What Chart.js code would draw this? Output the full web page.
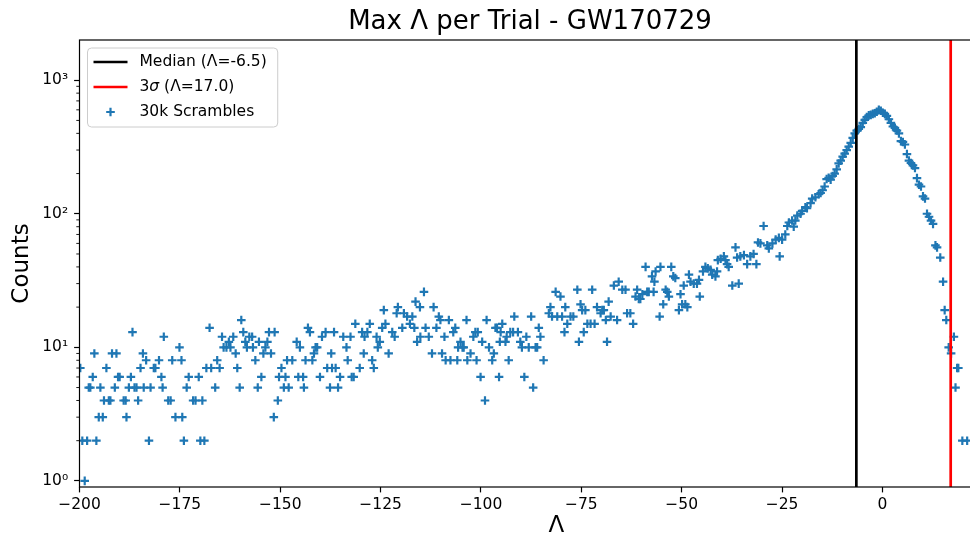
<!DOCTYPE html>
<html>
<head>
<meta charset="utf-8">
<script src="https://cdn.jsdelivr.net/npm/chart.js@4.4.1/dist/chart.umd.min.js"></script>
<style>
html, body { margin: 0; background: #fff; overflow: hidden; }
#wrap { width: 970px; height: 542px; overflow: hidden; }
</style>
</head>
<body>
<!-- the reference figure is cropped on the right: the axes run past the picture edge -->
<div id="wrap"><canvas id="myChart" width="1060" height="542"></canvas></div>
<script>
// values: [lambda, count]
const tailFar = [
	[-199.8, 7], [-199.3, 2], [-198.7, 1], [-198.1, 2], [-197.7, 5], [-197.3, 5], [-196.7, 6], [-196.3, 9], [-195.8, 2], [-195.2, 3],
	[-194.8, 5], [-194.2, 3], [-193.9, 4], [-193.3, 7], [-192.7, 4], [-192.3, 4], [-191.9, 9], [-191.2, 5], [-190.8, 9], [-190.4, 6],
	[-190.0, 6], [-189.0, 4], [-188.5, 4], [-188.3, 3], [-187.7, 5], [-187.2, 6], [-186.8, 13], [-186.3, 5], [-185.8, 5], [-185.4, 4],
	[-184.8, 7], [-184.2, 9], [-184.0, 5], [-183.4, 8], [-182.7, 2], [-182.3, 5], [-181.5, 7], [-181.1, 7], [-180.2, 8], [-179.6, 6],
	[-179.3, 5], [-179.0, 12], [-177.9, 4], [-177.3, 4], [-176.9, 8], [-176.1, 3], [-175.1, 10], [-174.6, 8], [-174.4, 3], [-174.0, 2]
];
const tailMid = [
	[-173.3, 5], [-172.8, 6], [-171.7, 4], [-171.1, 4], [-170.3, 6], [-169.9, 2], [-169.4, 4], [-168.9, 2], [-168.4, 7], [-167.6, 14],
	[-167.2, 7], [-166.2, 5], [-165.7, 8], [-165.1, 7], [-164.5, 12], [-164.1, 10], [-163.4, 10], [-162.8, 11], [-162.4, 10], [-161.7, 12],
	[-161.1, 9], [-160.7, 7], [-160.1, 5], [-159.7, 16], [-159.2, 13], [-158.7, 11], [-158.3, 10], [-157.7, 12], [-157.0, 12], [-156.8, 10],
	[-156.2, 8], [-155.6, 5], [-155.3, 11], [-154.7, 6], [-154.2, 9], [-153.7, 10], [-153.2, 11], [-152.8, 13], [-152.3, 9], [-151.6, 3],
	[-151.4, 13], [-150.6, 4], [-150.3, 6], [-149.7, 7], [-149.1, 5], [-148.7, 6], [-148.3, 8], [-147.9, 5]
];
const tailNear = [
	[-147.0, 8], [-145.9, 11], [-145.5, 6], [-145.1, 10], [-144.3, 6], [-144.1, 5], [-143.7, 8], [-143.1, 14], [-142.6, 13], [-142.0, 8],
	[-141.6, 9], [-141.2, 10], [-140.8, 10], [-140.1, 6], [-139.6, 12], [-138.7, 13], [-138.3, 7], [-137.6, 5], [-137.3, 9], [-137.1, 7],
	[-136.6, 13], [-136.2, 7], [-135.6, 5], [-135.1, 6], [-134.3, 12], [-133.5, 10], [-133.2, 8], [-132.5, 12], [-132.2, 6], [-131.7, 6],
	[-131.3, 15], [-130.2, 7], [-129.6, 13], [-129.2, 9], [-129.0, 12], [-128.3, 13], [-127.7, 15], [-127.1, 8], [-126.7, 7], [-126.0, 12],
	[-125.7, 10], [-125.2, 11], [-124.6, 14], [-124.2, 19], [-123.8, 15], [-123.0, 9], [-122.1, 13], [-121.5, 12], [-121.0, 18], [-120.7, 20],
	[-119.6, 14], [-119.2, 18], [-118.4, 17], [-117.7, 15], [-117.1, 17], [-116.6, 14], [-116.3, 22], [-115.9, 11], [-115.2, 20], [-115.1, 12],
	[-114.2, 26], [-113.8, 14], [-113.0, 12], [-112.2, 9], [-111.8, 20], [-111.1, 14], [-110.5, 17], [-110.1, 16], [-109.7, 9], [-109.1, 12],
	[-108.8, 8], [-108.0, 16], [-107.6, 8], [-106.9, 13], [-106.4, 14]
];
const shoulder = [
	[-105.9, 8], [-105.7, 10], [-105.1, 11], [-104.6, 10], [-104.3, 10], [-103.6, 16], [-103.4, 8], [-102.6, 9], [-101.9, 12], [-101.4, 13],
	[-101.1, 8], [-100.8, 13], [-100.1, 6], [-99.7, 11], [-99.0, 4], [-98.6, 16], [-98.0, 10], [-97.2, 8], [-96.8, 9], [-96.4, 14],
	[-96.0, 14], [-95.5, 6], [-95.3, 11], [-95.1, 13], [-94.7, 15], [-93.9, 11], [-93.6, 12], [-93.1, 8], [-92.7, 13], [-92.0, 13],
	[-91.7, 17], [-90.8, 13], [-90.2, 11], [-89.8, 10], [-89.2, 6], [-88.7, 12], [-88.1, 10], [-87.5, 17], [-87.0, 5], [-86.4, 10],
	[-86.0, 10], [-85.6, 14], [-85.2, 12], [-84.4, 8], [-83.1, 18], [-82.7, 20], [-82.3, 17], [-81.4, 26], [-81.0, 17], [-80.2, 24],
	[-79.8, 17], [-79.2, 13], [-79.0, 20], [-78.5, 15], [-77.7, 17], [-77.0, 17], [-76.0, 27], [-75.6, 11], [-75.2, 21], [-74.8, 19],
	[-74.4, 13], [-74.0, 19], [-73.5, 15], [-72.7, 15], [-72.3, 27], [-71.7, 15], [-71.1, 20], [-70.2, 18], [-69.8, 19], [-69.4, 19],
	[-68.9, 16], [-68.6, 11], [-68.2, 22], [-67.7, 17], [-66.9, 29], [-66.1, 16], [-65.7, 31], [-64.8, 27], [-64.0, 27], [-63.6, 18],
	[-62.8, 18], [-62.1, 15], [-61.5, 24], [-61.1, 27], [-60.7, 23]
];
const rise = [
	[-60.3, 23], [-59.8, 25], [-59.0, 40], [-58.6, 26], [-58.2, 26], [-57.4, 34], [-57.0, 26], [-56.8, 31], [-56.5, 37], [-55.5, 17],
	[-55.3, 40], [-54.6, 21], [-54.0, 27], [-53.6, 26], [-53.2, 24], [-52.6, 40], [-52.1, 34], [-51.6, 33], [-50.7, 19], [-50.3, 25],
	[-49.9, 21], [-49.5, 29], [-49.1, 21], [-48.6, 20], [-48.2, 35], [-47.8, 31], [-47.0, 30], [-46.2, 30], [-45.7, 32], [-45.5, 24],
	[-44.7, 37], [-44.1, 40], [-43.5, 39], [-42.8, 38], [-42.4, 35], [-41.6, 34], [-41.2, 37], [-41.0, 45], [-40.3, 46], [-39.5, 48],
	[-39.1, 45], [-38.7, 42], [-38.3, 40], [-37.4, 29], [-36.6, 56], [-36.2, 47], [-35.8, 30], [-35.4, 48], [-34.5, 49], [-33.7, 42],
	[-32.9, 48], [-32.1, 50], [-31.4, 42], [-31.0, 61], [-30.4, 60], [-29.6, 81], [-28.7, 58], [-28.3, 55], [-27.4, 60], [-26.6, 64],
	[-25.8, 66], [-25.6, 48], [-25.0, 64], [-24.2, 70], [-23.7, 81], [-23.3, 86], [-22.5, 89], [-22.1, 80], [-21.7, 89], [-21.2, 97],
	[-20.4, 100], [-20.0, 105], [-19.2, 112], [-18.8, 110], [-17.9, 120], [-17.5, 130], [-16.7, 133], [-15.9, 140]
];
const peak = [
	[-15.4, 143], [-14.9, 150], [-14.4, 160], [-13.9, 182], [-13.4, 186], [-12.9, 180], [-12.4, 192], [-11.9, 200], [-11.4, 215], [-10.9, 238],
	[-10.4, 250], [-9.9, 268], [-9.4, 282], [-8.9, 300], [-8.4, 318], [-7.9, 340], [-7.4, 370], [-6.9, 400], [-6.4, 420], [-5.9, 432],
	[-5.4, 445], [-4.9, 480], [-4.4, 505], [-3.9, 530], [-3.4, 545], [-2.9, 550], [-2.4, 560], [-1.9, 565], [-1.4, 580], [-0.9, 600],
	[-0.4, 590], [0.1, 570], [0.6, 560], [1.1, 540], [1.6, 510], [2.1, 480], [2.6, 450], [3.1, 440], [3.6, 420], [4.1, 400],
	[4.6, 350], [5.1, 345], [5.6, 330], [6.1, 280], [6.6, 250], [7.1, 240], [7.6, 230], [8.1, 220], [8.6, 185], [9.1, 165],
	[9.6, 160], [10.1, 135], [10.6, 130], [11.1, 100], [11.6, 95], [12.1, 89], [12.6, 84]
];
const tailRight = [
	[13.2, 58], [13.6, 56], [14.4, 47], [15.1, 31], [15.5, 19], [15.9, 16], [16.5, 10], [17.1, 9], [17.8, 12], [18.2, 5],
	[18.6, 7], [18.9, 7], [19.9, 2], [21.1, 2]
];

const medianLambda = -6.5;
const sigma3Lambda = 17.0;

const xTickValues = [-200, -175, -150, -125, -100, -75, -50, -25, 0];
const yTickValues = [1, 10, 100, 1000];
const yTickLabels = ['10\u2070', '10\u00b9', '10\u00b2', '10\u00b3'];
const yMinorTicks = [2, 3, 4, 5, 6, 7, 8, 9, 20, 30, 40, 50, 60, 70, 80, 90, 200, 300, 400, 500, 600, 700, 800, 900];

const xMin = -200, xMax = 37.5;
const yMin = 0.9, yMax = 2000;

const FONT = '"DejaVu Sans", sans-serif';

const points = [...tailFar, ...tailMid, ...tailNear, ...shoulder, ...rise, ...peak, ...tailRight]
	.map(p => ({ x: p[0], y: p[1] }));

// matplotlib-ish bits: frame, minor ticks, suptitle, legend box
const mplDecor = {
	id: 'mplDecor',
	afterDraw(chart) {
		const c = chart.ctx;
		const a = chart.chartArea;
		const ys = chart.scales.y;
		c.save();

		c.strokeStyle = '#000';
		c.lineWidth = 1.2;
		c.strokeRect(a.left, a.top, a.right - a.left, a.bottom - a.top);

		c.lineWidth = 0.9;
		yMinorTicks.forEach(v => {
			if (v < yMin || v > yMax) return;
			const py = ys.getPixelForValue(v);
			c.beginPath();
			c.moveTo(a.left - 3.2, py);
			c.lineTo(a.left, py);
			c.stroke();
		});

		// figure title, centred on the whole (uncropped) figure
		c.fillStyle = '#000';
		c.font = '26px ' + FONT;
		c.textAlign = 'center';
		c.textBaseline = 'alphabetic';
		c.fillText('Max \u039b per Trial - GW170729', chart.width / 2, 29);

		// legend
		const ds = chart.data.datasets;
		c.font = '15.5px ' + FONT;
		const textW = Math.max(...ds.map(d => c.measureText(d.label).width));
		const bx = a.left + 8, by = a.top + 8;
		const bw = 52 + textW + 11, bh = 79;
		c.beginPath();
		c.roundRect(bx, by, bw, bh, 4);
		c.fillStyle = 'rgba(255,255,255,0.8)';
		c.fill();
		c.strokeStyle = '#cccccc';
		c.lineWidth = 1;
		c.stroke();

		ds.forEach((d, i) => {
			const cy = by + 14 + i * 25;
			if (d.showLine) {
				c.strokeStyle = d.borderColor;
				c.lineWidth = d.borderWidth;
				c.beginPath();
				c.moveTo(bx + 6, cy);
				c.lineTo(bx + 40, cy);
				c.stroke();
			} else {
				const r = d.pointRadius;
				c.strokeStyle = d.pointBorderColor;
				c.lineWidth = d.pointBorderWidth;
				c.beginPath();
				c.moveTo(bx + 23 - r, cy);
				c.lineTo(bx + 23 + r, cy);
				c.moveTo(bx + 23, cy - r);
				c.lineTo(bx + 23, cy + r);
				c.stroke();
			}
			c.fillStyle = '#000';
			c.textAlign = 'left';
			c.textBaseline = 'middle';
			let tx = bx + 52;
			const parts = d.label.split('\u03c3');
			parts.forEach((part, k) => {
				c.font = '15.5px ' + FONT;
				c.fillText(part, tx, cy);
				tx += c.measureText(part).width;
				if (k < parts.length - 1) {
					c.font = 'italic 15.5px ' + FONT;
					c.fillText('\u03c3', tx, cy);
					tx += c.measureText('\u03c3').width;
				}
			});
		});
		c.restore();
	}
};

const ctx = document.getElementById('myChart');

let chart = new Chart(ctx, {
	type: 'scatter',
	data: {
		datasets: [{
				label: 'Median (\u039b=-6.5)',
				data: [{ x: medianLambda, y: yMin }, { x: medianLambda, y: yMax }],
				showLine: true,
				borderColor: '#000000',
				borderWidth: 2.7,
				pointRadius: 0,
			},
			{
				label: '3\u03c3 (\u039b=17.0)',
				data: [{ x: sigma3Lambda, y: yMin }, { x: sigma3Lambda, y: yMax }],
				showLine: true,
				borderColor: '#ff0000',
				borderWidth: 2.7,
				pointRadius: 0,
			},
			{
				label: '30k Scrambles',
				data: points,
				pointStyle: 'cross',
				pointRadius: 4.3,
				pointBorderWidth: 2.2,
				pointBorderColor: '#1f77b4',
				pointBackgroundColor: '#1f77b4',
				borderColor: '#1f77b4',
			}
		],
	},
	options: {
		responsive: false,
		animation: false,
		layout: { padding: { top: 40, right: 27, left: 0, bottom: 0 } },
		plugins: {
			legend: { display: false },
			title: { display: false },
			tooltip: { enabled: false },
		},
		scales: {
			x: {
				type: 'linear',
				min: xMin,
				max: xMax,
				afterBuildTicks: s => { s.ticks = xTickValues.map(v => ({ value: v })); },
				afterFit: s => { s.height = 55; },
				ticks: {
					callback: v => String(v).replace('-', '\u2212'),
					font: { family: FONT, size: 15.5 },
					color: '#000',
					padding: 3,
					maxRotation: 0,
					autoSkip: false,
				},
				grid: { drawOnChartArea: false, tickLength: 5.4, tickColor: '#000', tickWidth: 1.2 },
				border: { display: false },
				title: { display: true, text: '\u039b', font: { family: FONT, size: 23 }, color: '#000', padding: 2 },
			},
			y: {
				type: 'logarithmic',
				min: yMin,
				max: yMax,
				afterBuildTicks: s => { s.ticks = yTickValues.map(v => ({ value: v, major: true })); },
				afterFit: s => { s.width = 79.5; },
				ticks: {
					callback: v => yTickLabels[yTickValues.indexOf(v)],
					font: { family: FONT, size: 15.5 },
					color: '#000',
					padding: 6,
					autoSkip: false,
				},
				grid: { drawOnChartArea: false, tickLength: 5.4, tickColor: '#000', tickWidth: 1.2 },
				border: { display: false },
				title: { display: true, text: 'Counts', font: { family: FONT, size: 23 }, color: '#000', padding: { top: 8, bottom: 0 } },
			}
		}
	},
	plugins: [mplDecor]
});
</script>
</body>
</html>
